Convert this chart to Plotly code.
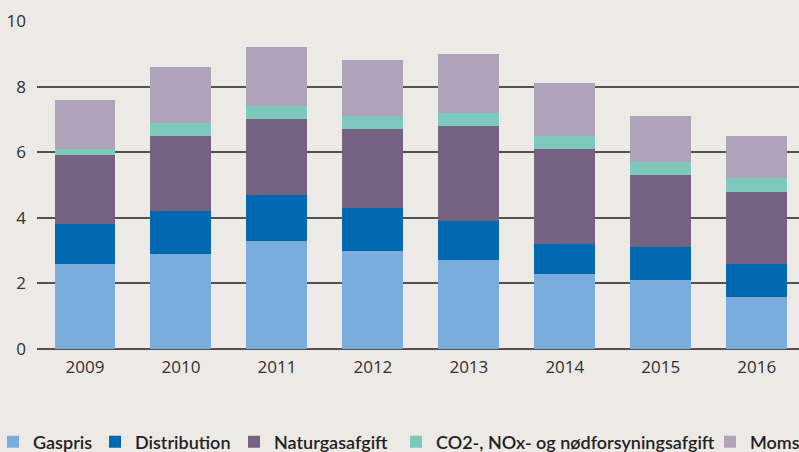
import plotly.graph_objects as go

years = ["2009", "2010", "2011", "2012", "2013", "2014", "2015", "2016"]
gaspris = [2.6, 2.9, 3.3, 3.0, 2.7, 2.3, 2.1, 1.6]
distribution = [1.2, 1.3, 1.4, 1.3, 1.2, 0.9, 1.0, 1.0]
naturgasafgift = [2.1, 2.3, 2.3, 2.4, 2.9, 2.9, 2.2, 2.2]
co2_nox = [0.2, 0.4, 0.4, 0.4, 0.4, 0.4, 0.4, 0.4]
moms = [1.5, 1.7, 1.8, 1.7, 1.8, 1.6, 1.4, 1.3]

series = [
    ("Gaspris", gaspris, "#7AADDC"),
    ("Distribution", distribution, "#0067B1"),
    ("Naturgasafgift", naturgasafgift, "#766283"),
    ("CO2-, NOx- og nødforsyningsafgift", co2_nox, "#7DCABD"),
    ("Moms", moms, "#B0A2BB"),
]

# legend text start positions (px) in the figure
legend_text_px = [32, 134, 273, 435, 749]

L, R, T, B = 37, 0, 21, 103
W, H = 799, 452
pw = W - L - R
ph = H - T - B

fig = go.Figure()
legend_layouts = {}
for i, (name, vals, col) in enumerate(series):
    lname = "legend" if i == 0 else f"legend{i+1}"
    fig.add_trace(go.Bar(x=list(range(len(years))), y=vals, name=name,
                         marker=dict(color=col, line=dict(width=0)),
                         legend=lname))
    lx = (legend_text_px[i] - 39 - L) / pw
    legend_layouts[lname] = dict(
        orientation="h", x=lx, xanchor="left",
        y=(H - B - 442) / ph, yanchor="middle",
        font=dict(size=18, color="#222222", family="Lato", weight=600),
        itemwidth=30, bgcolor="rgba(0,0,0,0)")

bg = "#EDEAE5"
tickfont = dict(family="Open Sans", size=17, color="#303030", weight=400)
fig.update_layout(
    barmode="stack",
    bargap=0.365,
    width=W, height=H,
    paper_bgcolor=bg, plot_bgcolor=bg,
    margin=dict(l=L, r=R, t=T, b=B, autoexpand=False),
    font=dict(family="Open Sans", size=17, color="#333333"),
    showlegend=True,
    xaxis=dict(range=[-0.5, 7.44], tickmode="array",
               tickvals=list(range(len(years))), ticktext=years,
               showgrid=False, zeroline=False, showline=False, tickfont=tickfont,
               ticks="", ticklabelstandoff=6, automargin=False),
    yaxis=dict(range=[0, 10], tickvals=[0, 2, 4, 6, 8, 10], tickfont=tickfont,
               showgrid=True, gridcolor="#55514F", gridwidth=1.5,
               zeroline=True, zerolinecolor="#55514F", zerolinewidth=1.5,
               showline=False, ticks="", ticklabelstandoff=10,
               automargin=False),
    **legend_layouts,
)
fig.write_html("out.html", config={"displayModeBar": False},
               post_script="document.body.style.margin='0px';document.body.style.padding='0px';")
